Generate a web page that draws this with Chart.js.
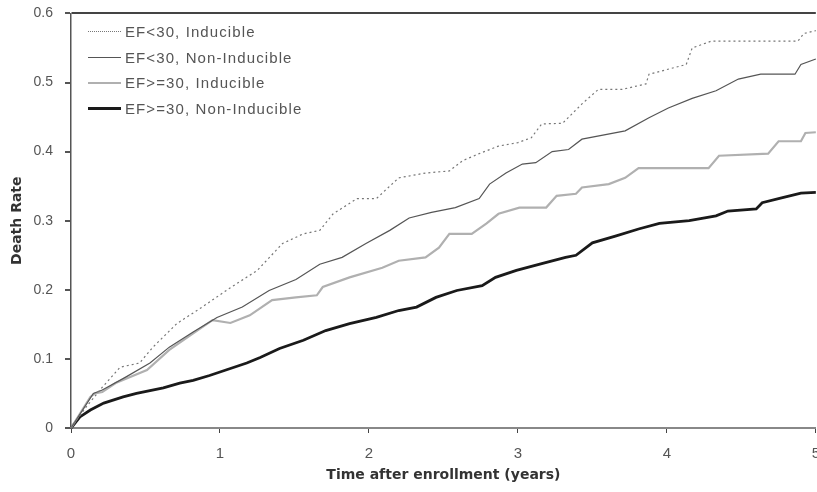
<!DOCTYPE html>
<html>
<head>
<meta charset="utf-8">
<script src="https://cdn.jsdelivr.net/npm/chart.js@4/dist/chart.umd.min.js"></script>
<style>
  html, body { margin: 0; padding: 0; background: #fff; overflow: hidden; }
  #wrap { position: relative; top: -7px; width: 832px; height: 499px; }
  #legend { position: absolute; left: 88px; top: 26px; font-family: "Liberation Sans", Arial, sans-serif; font-size: 15px; letter-spacing: 1.1px; color: #555; }
  .item { height: 25.5px; display: flex; align-items: center; }
  .swatch { width: 33px; margin-right: 4px; }
</style>
</head>
<body>
<div id="wrap">
  <canvas id="grafica"></canvas>
  <div id="legend"></div>
</div>
<script>
// series labels
const etiquetas = ["EF<30, Inducible", "EF<30, Non-Inducible", "EF>=30, Inducible", "EF>=30, Non-Inducible"];

// EF<30, Inducible
const x1 = [0,0.1,0.21,0.33,0.46,0.55,0.71,0.88,1.07,1.25,1.42,1.56,1.67,1.76,1.92,2.05,2.2,2.38,2.54,2.63,2.74,2.87,3.0,3.09,3.16,3.3,3.43,3.54,3.7,3.86,3.88,4.13,4.17,4.3,4.88,4.92,5.0];
const y1 = [0,0.03,0.059,0.088,0.094,0.117,0.151,0.175,0.203,0.228,0.267,0.281,0.286,0.31,0.332,0.332,0.362,0.369,0.372,0.387,0.397,0.408,0.413,0.42,0.44,0.441,0.469,0.49,0.49,0.498,0.512,0.526,0.55,0.56,0.56,0.571,0.575];

// EF<30, Non-Inducible
const x2 = [0,0.15,0.21,0.37,0.53,0.66,0.82,0.98,1.15,1.33,1.51,1.67,1.82,1.98,2.14,2.27,2.42,2.58,2.74,2.81,2.92,3.03,3.12,3.23,3.34,3.43,3.72,3.88,4.01,4.17,4.33,4.48,4.63,4.86,4.9,5.0];
const y2 = [0,0.05,0.055,0.074,0.094,0.117,0.139,0.16,0.175,0.199,0.215,0.237,0.247,0.267,0.286,0.304,0.312,0.319,0.332,0.353,0.369,0.382,0.384,0.4,0.403,0.418,0.43,0.449,0.463,0.477,0.488,0.505,0.512,0.512,0.526,0.534];

// EF>=30, Inducible
const x3 = [0,0.13,0.16,0.21,0.3,0.51,0.66,0.82,0.95,1.07,1.2,1.35,1.51,1.65,1.69,1.87,2.09,2.2,2.38,2.47,2.54,2.69,2.79,2.87,3.01,3.19,3.26,3.39,3.43,3.61,3.72,3.81,4.28,4.35,4.68,4.75,4.9,4.93,5.0];
const y3 = [0,0.045,0.05,0.052,0.065,0.084,0.113,0.137,0.156,0.152,0.163,0.185,0.189,0.192,0.204,0.218,0.232,0.242,0.247,0.261,0.281,0.281,0.296,0.31,0.319,0.319,0.336,0.339,0.348,0.353,0.362,0.376,0.376,0.394,0.397,0.415,0.415,0.427,0.428];

// EF>=30, Non-Inducible
const x4 = [0,0.06,0.13,0.22,0.35,0.44,0.62,0.73,0.82,0.93,1.04,1.18,1.27,1.4,1.56,1.71,1.87,2.05,2.2,2.32,2.45,2.59,2.76,2.85,2.99,3.16,3.32,3.39,3.5,3.66,3.81,3.95,4.15,4.33,4.41,4.6,4.64,4.77,4.9,5.0];
const y4 = [0,0.016,0.026,0.036,0.045,0.05,0.058,0.065,0.069,0.076,0.084,0.094,0.102,0.115,0.127,0.141,0.151,0.16,0.17,0.175,0.189,0.199,0.206,0.218,0.228,0.238,0.247,0.25,0.268,0.278,0.288,0.296,0.3,0.307,0.314,0.317,0.326,0.333,0.34,0.341];

const estilos = [
  { color: "#777", width: 1.2, dash: [2, 3], css: "1px dotted #777" },
  { color: "#555", width: 1.2, dash: [], css: "1px solid #555" },
  { color: "#b0b0b0", width: 2.2, dash: [], css: "2px solid #b0b0b0" },
  { color: "#1a1a1a", width: 2.8, dash: [], css: "3px solid #1a1a1a" }
];

function pares(xs, ys) {
  return xs.map((x, i) => ({ x: x, y: ys[i] }));
}

const series = [pares(x1, y1), pares(x2, y2), pares(x3, y3), pares(x4, y4)];

const datasets = series.map((d, i) => ({
  label: etiquetas[i],
  data: d,
  borderColor: estilos[i].color,
  borderWidth: estilos[i].width,
  borderDash: estilos[i].dash,
  pointRadius: 0,
  fill: false,
  tension: 0,
  clip: false
}));

// legend inside the plot
const leyenda = document.getElementById("legend");
etiquetas.forEach((t, i) => {
  const fila = document.createElement("div");
  fila.className = "item";
  const sw = document.createElement("span");
  sw.className = "swatch";
  sw.style.borderTop = estilos[i].css;
  fila.appendChild(sw);
  fila.appendChild(document.createTextNode(t));
  leyenda.appendChild(fila);
});

const fuente = "'Liberation Sans', Arial, sans-serif";
const fuenteTitulo = "'DejaVu Sans', sans-serif";

new Chart(document.getElementById("grafica"), {
  type: "line",
  data: { datasets },
  options: {
    responsive: true,
    maintainAspectRatio: false,
    animation: false,
    layout: { padding: { top: 8, left: 0, right: 0, bottom: 0 } },
    plugins: {
      legend: { display: false },
      tooltip: { enabled: false }
    },
    scales: {
      x: {
        type: "linear",
        min: 0,
        max: 5,
        afterFit: s => { s.height = 64; },
        ticks: { stepSize: 1, color: "#555", font: { family: fuente, size: 15 }, padding: 12 },
        grid: { color: "transparent", tickColor: "#444", tickLength: 5 },
        border: { color: "#888", width: 2 },
        title: {
          display: true,
          text: "Time after enrollment (years)",
          color: "#333",
          font: { family: fuenteTitulo, size: 14, weight: "bold" },
          padding: { top: 0, bottom: 8 }
        }
      },
      y: {
        min: 0,
        max: 0.6,
        afterFit: s => { s.width = 71; },
        ticks: { stepSize: 0.1, color: "#555", font: { family: fuente, size: 14 }, padding: 12 },
        grid: {
          color: c => (c.tick && c.tick.value === 0.6 ? "#444" : "transparent"),
          lineWidth: 2,
          tickColor: "#555",
          tickLength: 6
        },
        border: { color: "#555", width: 1.5 },
        title: {
          display: true,
          text: "Death Rate",
          color: "#333",
          font: { family: fuenteTitulo, size: 14, weight: "bold" },
          padding: { top: 9, bottom: 0 }
        }
      }
    }
  }
});
</script>
</body>
</html>
